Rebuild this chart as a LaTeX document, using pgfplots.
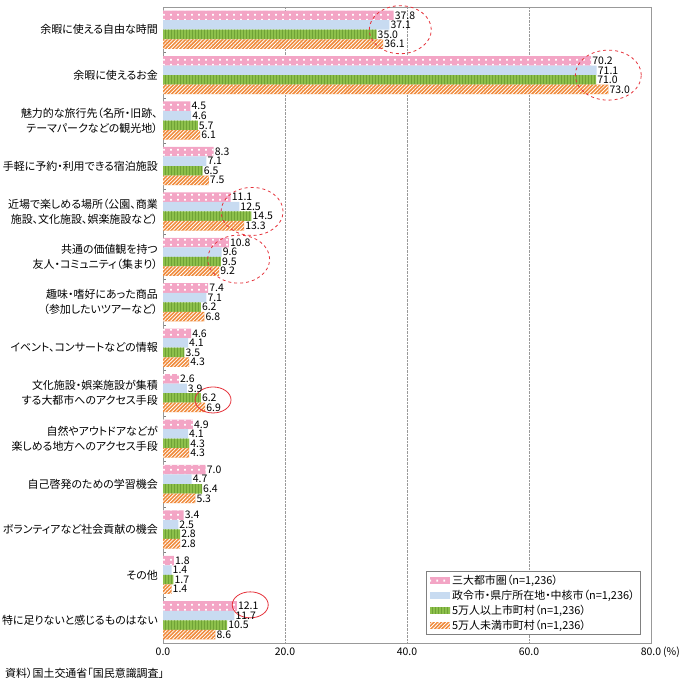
\documentclass[border=0pt]{standalone}
\usepackage{pgfplots}
\pgfplotsset{compat=1.18}
\usepackage{fontspec}
\setmainfont{Noto Sans CJK JP}[CharacterWidth=AlternateProportional]
\usetikzlibrary{patterns.meta}
\definecolor{cpink}{HTML}{F3A5C5}
\definecolor{cblue}{HTML}{C8DBF1}
\definecolor{cgreen}{HTML}{8DC04B}
\definecolor{cgreendk}{HTML}{6FA236}
\definecolor{corange}{HTML}{F08A3A}
\definecolor{cred}{HTML}{E5323B}
\pgfdeclarepattern{
  name=pinkdots, type=uncolored,
  bottom left={\pgfpoint{0bp}{0bp}}, top right={\pgfpoint{7bp}{4.77bp}},
  tile size={\pgfpoint{7bp}{4.77bp}},
  code={\pgfpathrectangle{\pgfpoint{2.5bp}{1.4bp}}{\pgfpoint{2bp}{2bp}}\pgfusepath{fill}}
}
\tikzset{
  pinkstyle/.style={fill=cpink, draw=none, postaction={pattern=pinkdots, pattern color=white}},
  bluestyle/.style={fill=cblue, draw=none},
  greenstyle/.style={fill=cgreen, draw=none, postaction={pattern={Lines[angle=90,distance=3bp,line width=1bp]}, pattern color=cgreendk}},
  orangestyle/.style={fill=corange, draw=none, postaction={pattern={Lines[angle=45,distance=2.6bp,line width=0.8bp]}, pattern color=white}},
}
\begin{document}
\begin{tikzpicture}
\begin{axis}[
  scale only axis,
  width=488bp, height=636bp,
  xbar, bar width=0.21,
  xmin=0, xmax=80,
  ymin=-0.5, ymax=13.5,
  y dir=reverse,
  clip=false,
  point meta=x,
  /pgf/number format/assume math mode=true,
  xtick={0,20,40,60,80},
  xticklabels={0.0,20.0,40.0,60.0,80.0},
  xticklabel style={font=\fontsize{10.5}{12}\selectfont, yshift=-1bp},
  major x tick style={draw=none},
  xmajorgrids,
  grid style={gray!80, densely dotted, line width=0.6bp},
  ytick={0,1,...,13},
  major y tick style={draw=none},
  minor ytick={0.5,1.5,...,12.5},
  minor tick length=3bp,
  minor y tick style={gray},
  tick align=inside,
  ytick pos=left,
  yticklabels={
    {余暇に使える自由な時間},
    {余暇に使えるお金},
    {魅力的な旅行先（名所・旧跡、\\テーマパークなどの観光地）},
    {手軽に予約・利用できる宿泊施設},
    {近場で楽しめる場所（公園、商業\\施設、文化施設、娯楽施設など）},
    {共通の価値観を持つ\\友人・コミュニティ（集まり）},
    {趣味・嗜好にあった商品\\（参加したいツアーなど）},
    {イベント、コンサートなどの情報},
    {文化施設・娯楽施設が集積\\する大都市へのアクセス手段},
    {自然やアウトドアなどが\\楽しめる地方へのアクセス手段},
    {自己啓発のための学習機会},
    {ボランティアなど社会貢献の機会},
    {その他},
    {特に足りないと感じるものはない}},
  yticklabel style={align=right, font=\fontsize{11}{15}\selectfont, inner sep=0pt, xshift=-5bp},
  axis line style={gray!80, line width=0.6bp},
  nodes near coords={\pgfmathprintnumber[fixed,fixed zerofill,precision=1]{\pgfplotspointmeta}},
  nodes near coords align=horizontal,
  every node near coord/.append style={font=\fontsize{10.5}{11}\selectfont, inner sep=1bp, anchor=west, text=black},
  legend style={at={(axis description cs:1,0)}, anchor=south east, xshift=-10bp, yshift=8bp,
    draw=gray, line width=0.6bp, font=\fontsize{11}{14}\selectfont, inner xsep=4bp, inner ysep=2bp,
    row sep=0pt},
  legend cell align=left,
  legend image code/.code={\path[#1] (0bp,-3.5bp) rectangle (20bp,3.5bp);},
]
\addplot[pinkstyle, bar shift=-0.315] coordinates {
(37.8,0) (70.2,1) (4.5,2) (8.3,3) (11.1,4) (10.8,5) (7.4,6) (4.6,7) (2.6,8) (4.9,9) (7.0,10) (3.4,11) (1.8,12) (12.1,13)};
\addplot[bluestyle, bar shift=-0.105] coordinates {
(37.1,0) (71.1,1) (4.6,2) (7.1,3) (12.5,4) (9.6,5) (7.1,6) (4.1,7) (3.9,8) (4.1,9) (4.7,10) (2.5,11) (1.4,12) (11.7,13)};
\addplot[greenstyle, bar shift=0.105] coordinates {
(35.0,0) (71.0,1) (5.7,2) (6.5,3) (14.5,4) (9.5,5) (6.2,6) (3.5,7) (6.2,8) (4.3,9) (6.4,10) (2.8,11) (1.7,12) (10.5,13)};
\addplot[orangestyle, bar shift=0.315] coordinates {
(36.1,0) (73.0,1) (6.1,2) (7.5,3) (13.3,4) (9.2,5) (6.8,6) (4.3,7) (6.9,8) (4.3,9) (5.3,10) (2.8,11) (1.4,12) (8.6,13)};
\legend{{三大都市圏（n=1,236）}, {政令市・県庁所在地・中核市（n=1,236）}, {5万人以上市町村（n=1,236）}, {5万人未満市町村（n=1,236）}}
\draw[cred, dashed, line width=0.8bp] (axis cs:38.9,0) ellipse [x radius=31bp, y radius=24bp];
\draw[cred, dashed, line width=0.8bp] (axis cs:73.0,1) ellipse [x radius=33bp, y radius=25bp];
\draw[cred, dashed, line width=0.8bp] (axis cs:14.6,4) ellipse [x radius=31bp, y radius=24bp];
\draw[cred, dashed, line width=0.8bp] (axis cs:12.4,5.05) ellipse [x radius=31bp, y radius=24bp];
\draw[cred, line width=0.8bp] (axis cs:8.2,8.15) ellipse [x radius=18bp, y radius=13bp];
\draw[cred, line width=0.8bp] (axis cs:14.3,12.66) ellipse [x radius=18bp, y radius=13bp];
\node[anchor=west, font=\fontsize{10.5}{12}\selectfont, inner sep=0pt] at ([xshift=12bp,yshift=-9bp]rel axis cs:1,0) {(\%)};
\node[anchor=west, font=\fontsize{11}{12}\selectfont, inner sep=0pt] at ([xshift=-158bp,yshift=-30bp]rel axis cs:0,0) {資料）国土交通省「国民意識調査」};
\end{axis}
\pgfresetboundingbox
\path[use as bounding box] ([xshift=-163bp,yshift=-40bp]current axis.south west) rectangle ([xshift=36bp,yshift=7bp]current axis.north east);
\end{tikzpicture}
\end{document}
